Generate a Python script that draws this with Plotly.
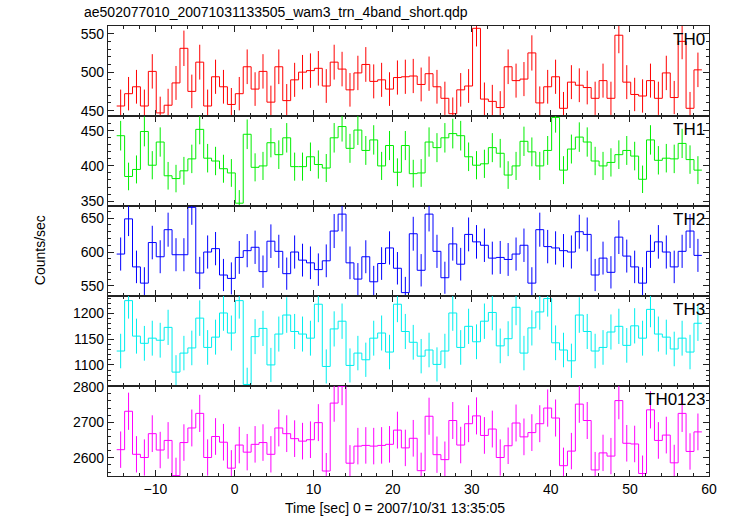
import numpy as np
import plotly.graph_objects as go
from plotly.subplots import make_subplots

title = "ae502077010_20071031133505_wam3_trn_4band_short.qdp"
x_title = "Time [sec] 0 = 2007/10/31 13:35:05"
y_title = "Counts/sec"

# 1-s bins; time of first bin centre (s from trigger)
bin_start = -14.4
bin_width = 1.0

band_names = ["TH0", "TH1", "TH2", "TH3", "TH0123"]

th0 = [456, 472, 481, 456, 501, 447, 457, 486, 531, 475,
       513, 456, 494, 481, 458, 472, 507, 478, 501, 461,
       507, 463, 490, 500, 502, 505, 482, 513, 504, 477,
       499, 510, 488, 490, 478, 493, 494, 495, 484, 498,
       481, 466, 446, 477, 482, 557, 465, 462, 454, 507,
       489, 491, 525, 460, 481, 494, 453, 487, 483, 480,
       466, 489, 466, 548, 487, 471, 469, 489, 466, 499,
       467, 540, 453, 503]

th1 = [443, 385, 395, 449, 401, 434, 386, 382, 393, 410,
       452, 411, 407, 396, 390, 347, 445, 398, 400, 433,
       416, 440, 399, 399, 413, 402, 397, 440, 456, 425,
       451, 422, 437, 400, 429, 391, 429, 389, 390, 434,
       426, 440, 446, 443, 413, 401, 403, 426, 418, 387,
       400, 435, 420, 400, 422, 469, 394, 424, 441, 434,
       407, 400, 405, 416, 422, 414, 381, 437, 408, 411,
       410, 432, 409, 394]

th2 = [597, 649, 578, 554, 614, 593, 633, 596, 596, 666,
       569, 600, 605, 566, 561, 592, 602, 607, 571, 616,
       601, 568, 600, 588, 584, 574, 587, 631, 656, 584,
       560, 593, 556, 583, 606, 576, 540, 627, 573, 656,
       601, 562, 612, 582, 626, 615, 610, 591, 592, 589,
       597, 610, 554, 633, 608, 606, 602, 600, 630, 626,
       566, 591, 570, 622, 594, 578, 554, 601, 615, 600,
       578, 601, 631, 595]

th3 = [1127, 1225, 1156, 1142, 1152, 1148, 1173, 1086, 1123, 1133,
       1191, 1134, 1154, 1201, 1162, 1225, 1062, 1155, 1171, 1100,
       1160, 1197, 1165, 1160, 1152, 1218, 1097, 1170, 1185, 1099,
       1123, 1110, 1152, 1162, 1125, 1218, 1165, 1144, 1117, 1129,
       1101, 1127, 1201, 1134, 1175, 1145, 1185, 1202, 1137, 1151,
       1212, 1123, 1172, 1203, 1229, 1143, 1129, 1108, 1197, 1165,
       1127, 1134, 1164, 1175, 1138, 1176, 1152, 1208, 1160, 1154,
       1131, 1152, 1125, 1181]

th0123 = [2623, 2731, 2610, 2601, 2668, 2622, 2649, 2550, 2643, 2684,
          2725, 2601, 2660, 2644, 2571, 2636, 2616, 2638, 2643, 2610,
          2684, 2668, 2654, 2647, 2651, 2699, 2563, 2754, 2801, 2585,
          2633, 2635, 2633, 2635, 2638, 2678, 2628, 2655, 2564, 2717,
          2609, 2595, 2705, 2636, 2696, 2718, 2663, 2681, 2601, 2634,
          2698, 2659, 2671, 2696, 2740, 2712, 2578, 2619, 2751, 2705,
          2566, 2614, 2605, 2761, 2641, 2639, 2556, 2735, 2649, 2664,
          2586, 2725, 2618, 2673]

series = [th0, th1, th2, th3, th0123]
colors = ["#ff0000", "#00ee00", "#0000ff", "#00eeee", "#ff00ff"]
y_ranges = [[443, 560], [343, 471], [535, 668], [1059, 1234], [2549, 2802]]
y_major = [50, 50, 50, 50, 100]
y_minor = [10, 10, 10, 10, 20]

fig = make_subplots(rows=5, cols=1, shared_xaxes=True, vertical_spacing=0)

for i, (vals, col) in enumerate(zip(series, colors)):
    row = i + 1
    v = np.array(vals, dtype=float)
    t = bin_start + bin_width * np.arange(len(v))
    edges = np.append(t - bin_width / 2, t[-1] + bin_width / 2)
    ystep = np.append(v, v[-1])
    fig.add_trace(go.Scatter(x=edges, y=ystep, mode="lines",
                             line=dict(shape="hv", color=col, width=1),
                             hoverinfo="skip", showlegend=False), row=row, col=1)
    # Poisson errors for 1-s bins
    fig.add_trace(go.Scatter(x=t, y=v, mode="markers",
                             marker=dict(size=1, color="rgba(0,0,0,0)"),
                             error_y=dict(type="data", array=np.sqrt(v * bin_width) / bin_width,
                                          color=col, thickness=1, width=0),
                             showlegend=False), row=row, col=1)

axis_common = dict(showline=True, linecolor="#222222", linewidth=1.2, mirror="allticks",
                   ticks="inside", ticklen=6, tickwidth=1, tickcolor="#222222",
                   showgrid=False, zeroline=False)

for i in range(5):
    row = i + 1
    fig.update_xaxes(range=[-16, 60], tick0=0, dtick=10,
                     minor=dict(ticks="inside", dtick=2, ticklen=3, tickcolor="#222222", tickwidth=1),
                     **axis_common, row=row, col=1)
    fig.update_yaxes(range=y_ranges[i], tick0=0, dtick=y_major[i],
                     minor=dict(ticks="inside", dtick=y_minor[i], ticklen=3, tickcolor="#222222", tickwidth=1),
                     **axis_common, row=row, col=1)

annotations = [
    dict(text=title, xref="paper", yref="paper", x=-0.043, y=1.031,
         xanchor="left", yanchor="middle", showarrow=False, font=dict(size=14)),
    dict(text=y_title, xref="paper", yref="paper", x=-0.113, y=0.502,
         xanchor="center", yanchor="middle", textangle=-90, showarrow=False, font=dict(size=14)),
    dict(text=x_title, xref="paper", yref="paper", x=0.478, y=-0.071,
         xanchor="center", yanchor="middle", showarrow=False, font=dict(size=14)),
]
for i, name in enumerate(band_names):
    annotations.append(dict(text=name, xref="paper", yref="paper", x=0.997,
                            y=0.971 - 0.2 * i, xanchor="right", yanchor="middle",
                            showarrow=False, font=dict(size=17)))

fig.update_layout(width=730, height=516,
                  margin=dict(l=108, r=21, t=26, b=40),
                  paper_bgcolor="white", plot_bgcolor="white",
                  font=dict(family="Liberation Sans, Arial, sans-serif", size=14, color="black"),
                  annotations=annotations, showlegend=False)

# remove the default 8px page margin so the figure sits at the window's corner
fig.write_html("out.html", config={"displayModeBar": False},
               post_script="document.body.style.margin='0px';")
